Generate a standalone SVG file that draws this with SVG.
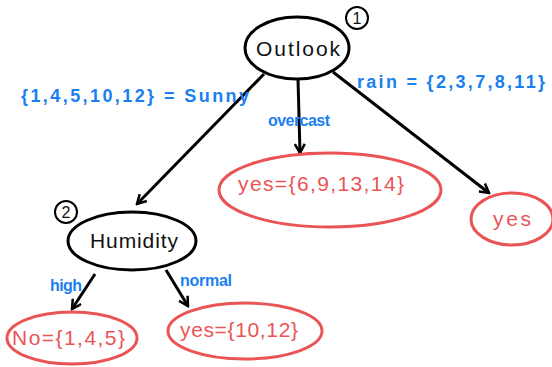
<svg xmlns="http://www.w3.org/2000/svg" width="552" height="367" viewBox="0 0 552 367">
  <style>
    .attr { fill: #fff; stroke: #000; stroke-width: 3; }
    .leaf { fill: #fff; stroke: #ea5455; stroke-width: 3; }
    .num { fill: none; stroke: #000; stroke-width: 2; }
    .t-attr { font-family: "Liberation Sans", "DejaVu Sans", sans-serif; font-size: 21px; fill: #111; }
    .t-num { font-family: "Liberation Sans", sans-serif; font-size: 16px; fill: #111; text-anchor: middle; }
    .t-leaf { font-family: "Liberation Sans", "DejaVu Sans", sans-serif; font-size: 21px; fill: #ea5455; }
    .t-edge { font-family: "Liberation Sans", "DejaVu Sans", sans-serif; font-size: 16px; font-weight: bold; fill: #1a7ff0; }
    .t-set { font-size: 18px; }
    .edge { stroke: #000; stroke-width: 3; fill: none; marker-end: url(#arrow); }
  </style>
  <defs>
    <marker id="arrow" viewBox="0 0 12 12" refX="10" refY="6" markerWidth="12" markerHeight="12" markerUnits="userSpaceOnUse" orient="auto">
      <path d="M1,1 L10,6 L1,11" fill="none" stroke="#000" stroke-width="2.5"/>
    </marker>
  </defs>
  <rect width="552" height="367" fill="#fff"/>

  <g id="connectors">
    <line class="edge" x1="264" y1="74" x2="137" y2="204"/>
    <line class="edge" x1="298" y1="79" x2="300" y2="153"/>
    <line class="edge" x1="333" y1="72" x2="489" y2="193"/>
    <line class="edge" x1="95" y1="274" x2="72" y2="309"/>
    <line class="edge" x1="166" y1="270" x2="188" y2="306"/>
    <text class="t-edge t-set" x="21" y="102" textLength="228" lengthAdjust="spacing">{1,4,5,10,12} = Sunny</text>
    <text class="t-edge" x="268" y="126" textLength="62" lengthAdjust="spacing">overcast</text>
    <text class="t-edge t-set" x="357" y="88" textLength="188" lengthAdjust="spacing">rain = {2,3,7,8,11}</text>
    <text class="t-edge" x="50" y="291" textLength="32" lengthAdjust="spacing">high</text>
    <text class="t-edge" x="180" y="286" textLength="52" lengthAdjust="spacing">normal</text>
  </g>

  <g id="outlook">
    <ellipse class="attr" cx="297" cy="48" rx="52" ry="31"/>
    <text class="t-attr" x="256" y="56" textLength="84" lengthAdjust="spacing">Outlook</text>
    <circle class="num" cx="357" cy="18" r="11"/>
    <text class="t-num" x="357" y="24">1</text>
  </g>

  <g id="humidity">
    <ellipse class="attr" cx="132" cy="241" rx="64" ry="29"/>
    <text class="t-attr" x="90" y="248" textLength="88" lengthAdjust="spacing">Humidity</text>
    <circle class="num" cx="66" cy="212" r="11"/>
    <text class="t-num" x="66" y="218">2</text>
  </g>

  <g id="leaf-overcast">
    <ellipse class="leaf" cx="330" cy="190" rx="111" ry="37"/>
    <text class="t-leaf" x="238" y="191" textLength="166" lengthAdjust="spacing">yes={6,9,13,14}</text>
  </g>

  <g id="leaf-rain">
    <ellipse class="leaf" cx="512" cy="219" rx="41" ry="26"/>
    <text class="t-leaf" x="493" y="226" textLength="38" lengthAdjust="spacing">yes</text>
  </g>

  <g id="leaf-high">
    <ellipse class="leaf" cx="72" cy="338" rx="65" ry="26"/>
    <text class="t-leaf" x="12" y="345" textLength="113" lengthAdjust="spacing">No={1,4,5}</text>
  </g>

  <g id="leaf-normal">
    <ellipse class="leaf" cx="245" cy="331" rx="77" ry="28"/>
    <text class="t-leaf" x="180" y="337" textLength="118" lengthAdjust="spacing">yes={10,12}</text>
  </g>
</svg>
